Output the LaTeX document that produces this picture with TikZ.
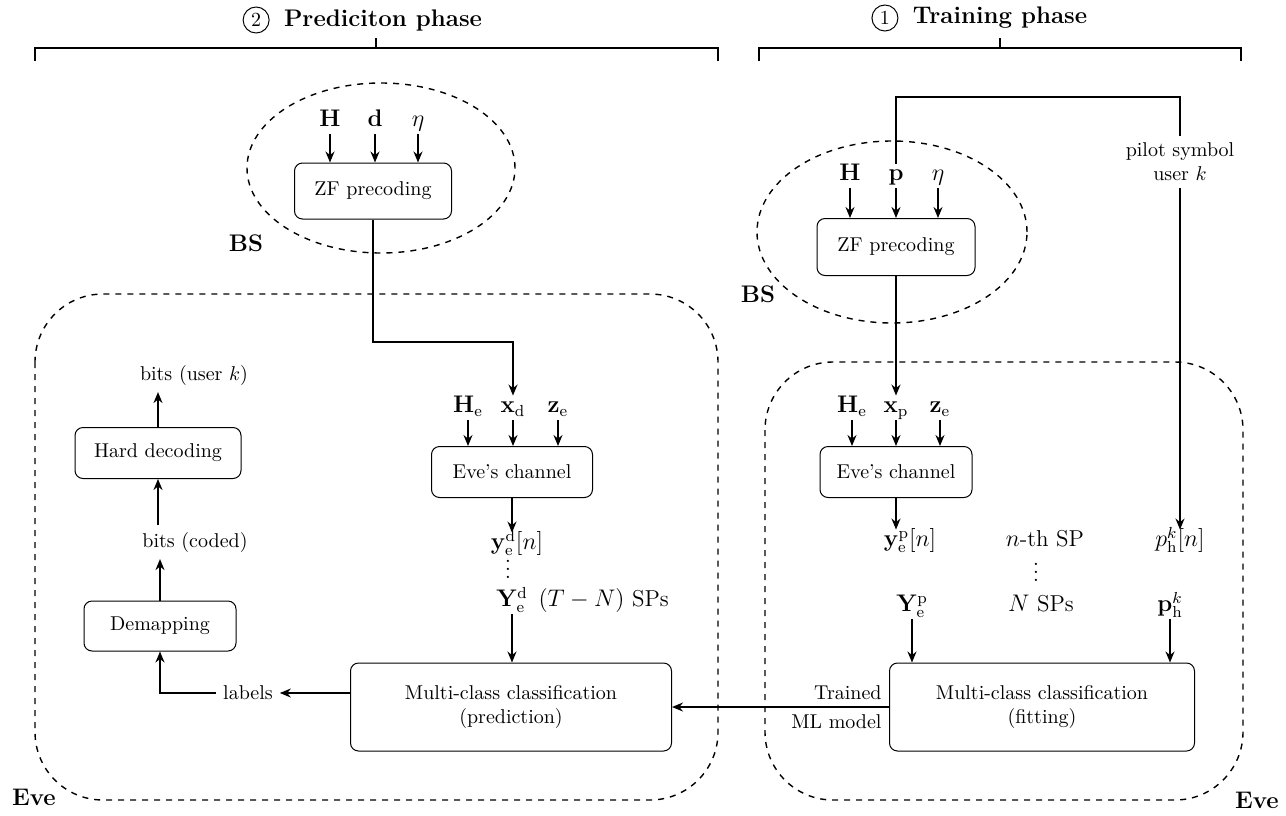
\documentclass[tikz,border=0pt]{standalone}
\usepackage{amsmath}
\usepackage{amssymb}
\usepackage{bm}
\usetikzlibrary{arrows.meta,positioning,shapes.geometric}
\newcommand{\lblsize}{\fontsize{11.5}{13}\selectfont}

\begin{document}
\begin{tikzpicture}[x=0.5pt, y=-0.5pt, >={Stealth[length=5.5pt,width=4.5pt]},
    block/.style={draw, rounded corners=4pt, align=center, line width=0.5pt},
    flow/.style={->, line width=0.8pt},
    wire/.style={line width=0.8pt},
    region/.style={draw, dashed, line width=0.7pt, rounded corners=34pt},
    bsarea/.style={draw, dashed, ellipse, line width=0.7pt},
    lbl/.style={font=\lblsize, inner sep=1.5pt, text height=1.6ex, text depth=0.5ex},
    dots/.style={font=\lblsize, inner sep=0pt},
    tag/.style={font=\large\bfseries, inner sep=1pt},
    num/.style={draw, circle, line width=0.5pt, minimum size=13pt, inner sep=0pt},
    brace/.style={line width=0.6pt}]
    \useasboundingbox (0,0) rectangle (1286,815);

    % phase titles
    \node[tag] (phaseP) at (383,20) {Prediciton phase};
    \node[num] (numP) [left=6pt of phaseP] {2};
    \node[tag] (phaseT) at (1000,18) {Training phase};
    \node[num] (numT) [left=6pt of phaseT] {1};
    \draw[brace] (35,61) -- (35,48) -- (718,48) -- (718,61);
    \draw[brace] (376,48) -- (376,38);
    \draw[brace] (759,61) -- (759,48) -- (1241,48) -- (1241,61);
    \draw[brace] (1000,48) -- (1000,38);

    % regions
    \node[bsarea, minimum width=134pt, minimum height=85pt] (bsL) at (381,168) {};
    \node[tag] (bsLtag) at (246,243) {BS};
    \node[bsarea, minimum width=135pt, minimum height=91pt] (bsR) at (892,232) {};
    \node[tag] (bsRtag) at (758,294) {BS};
    \draw[region] (35,294) rectangle (718,800);
    \node[tag] (eveLtag) at (34,797) {Eve};
    \draw[region] (765,362) rectangle (1243,800);
    \node[tag] (eveRtag) at (1257,800) {Eve};

    % prediction phase
    \node[block, minimum width=78.5pt, minimum height=28pt] (zfL) at (373,191) {ZF precoding};
    \node[lbl] (HL) at (330,122) {$\mathbf{H}$};
    \node[lbl] (dL) at (375,122) {$\mathbf{d}$};
    \node[lbl] (etaL) at (418,122) {$\eta$};
    \coordinate (kinkL) at (513,342);

    \node[lbl] (HeL) at (468,408) {$\mathbf{H}_\mathrm{e}$};
    \node[lbl] (xdL) at (513,408) {$\mathbf{x}_\mathrm{d}$};
    \node[lbl] (zeL) at (558,408) {$\mathbf{z}_\mathrm{e}$};
    \node[block, minimum width=80.5pt, minimum height=25.5pt] (chL) at (512,472) {Eve's channel};
    \node[lbl] (ydn) at (517,545) {$\mathbf{y}_\mathrm{e}^\mathrm{d}[n]$};
    \node[dots] (vdL) at (508,563) {$\vdots$};
    \node[lbl] (YdL) at (512,602) {$\mathbf{Y}_\mathrm{e}^\mathrm{d}$};
    \node[lbl, anchor=west] (spL) at ([xshift=2pt]YdL.east) {$(T-N)$ SPs};
    \node[block, minimum width=160.5pt, minimum height=44pt] (predL) at (511,707)
        {Multi-class classification\\(prediction)};

    \node (labels) at (248,693) {labels};
    \node[block, minimum width=76pt, minimum height=25pt] (demap) at (160,626) {Demapping};
    \node (bitsc) at (195,542) {bits (coded)};
    \node[block, minimum width=83pt, minimum height=25.5pt] (hard) at (158,453) {Hard decoding};
    \node (bitsu) at (194,375) {bits (user $k$)};

    \foreach \n in {HL,dL,etaL} \draw[flow] (\n) -- (\n |- zfL.north);
    \foreach \n in {HeL,xdL,zeL} \draw[flow] (\n) -- (\n |- chL.north);
    \draw[flow] (zfL.south) |- (kinkL) -- (xdL.north);
    \draw[flow] (chL.south) -- (chL.south |- ydn.north);
    \draw[flow] (YdL.south) -- (YdL.south |- predL.north);
    \draw[flow] (predL.west |- labels.east) -- (labels.east);
    \draw[flow] (labels.west) -| (demap.south);
    \draw[flow] (demap.north) -- (demap.north |- bitsc.south);
    \draw[flow] (hard.south |- bitsc.north) -- (hard.south);
    \draw[flow] (hard.north) -- (hard.north |- bitsu.south);

    % training phase
    \node[block, minimum width=79pt, minimum height=28.5pt] (zfR) at (896,247) {ZF precoding};
    \node[lbl] (HR) at (850,176) {$\mathbf{H}$};
    \node[lbl] (pR) at (896,176) {$\mathbf{p}$};
    \node[lbl] (etaR) at (938,176) {$\eta$};
    \node[align=center] (pilot) at (1180,162) {pilot symbol\\user $k$};
    \coordinate (topR) at (1180,97);

    \node[lbl] (HeR) at (852,408) {$\mathbf{H}_\mathrm{e}$};
    \node[lbl] (xpR) at (896,408) {$\mathbf{x}_\mathrm{p}$};
    \node[lbl] (zeR) at (940,408) {$\mathbf{z}_\mathrm{e}$};
    \node[block, minimum width=76pt, minimum height=25.5pt] (chR) at (896,472) {Eve's channel};
    \node[lbl] (ypn) at (910,542) {$\mathbf{y}_\mathrm{e}^\mathrm{p}[n]$};
    \node[lbl] (nth) at (1045,542) {$n$-th SP};
    \node[lbl] (phn) at (1180,542) {$p_\mathrm{h}^k[n]$};
    \node[dots] (vdR) at (1036,566) {$\vdots$};
    \node[lbl] (YpR) at (912,607) {$\mathbf{Y}_\mathrm{e}^\mathrm{p}$};
    \node[lbl] (NSP) at (1041,607) {$N$ SPs};
    \node[lbl] (PhR) at (1170,607) {$\mathbf{p}_\mathrm{h}^k$};
    \node[block, minimum width=152.5pt, minimum height=44pt] (fitR) at (1042,707)
        {Multi-class classification\\(fitting)};

    \foreach \n in {HR,pR,etaR} \draw[flow] (\n) -- (\n |- zfR.north);
    \foreach \n in {HeR,xpR,zeR} \draw[flow] (\n) -- (\n |- chR.north);
    \draw[wire] (pR.north) |- (topR) -- (pilot.north);
    \draw[flow] (pilot.south) -- (phn.north);
    \draw[flow] (zfR.south) -- (xpR.north);
    \draw[flow] (chR.south) -- (chR.south |- ypn.north);
    \draw[flow] (YpR.south) -- (YpR.south |- fitR.north);
    \draw[flow] (PhR.south) -- (PhR.south |- fitR.north);
    \draw[flow] (fitR.west) -- (predL.east)
        node[pos=0, above left] {Trained}
        node[pos=0, below left] {ML model};

\end{tikzpicture}
\end{document}
